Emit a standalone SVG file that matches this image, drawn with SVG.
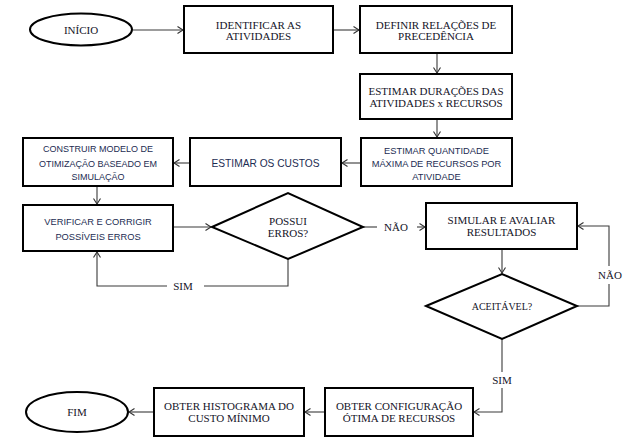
<svg xmlns="http://www.w3.org/2000/svg" width="626" height="443" viewBox="0 0 626 443">
<defs>
<style>
.box{fill:#fff;stroke:#000;stroke-width:2}
.con{fill:none;stroke:#3a3a3a;stroke-width:1.1}
.s{font-family:'Liberation Serif','DejaVu Serif',serif;font-size:11px;fill:#141428;text-anchor:middle}
.ss{font-family:'Liberation Sans',Arial,sans-serif;font-size:9.3px;fill:#1c2c52;text-anchor:middle}
</style>
<marker id="ah" markerUnits="userSpaceOnUse" markerWidth="10" markerHeight="10" refX="6" refY="4" orient="auto">
<path d="M0.5,0.5 L6,4 L0.5,7.5" fill="none" stroke="#333" stroke-width="1.1"/>
</marker>
</defs>
<rect width="626" height="443" fill="#fff"/>
<g id="connectors">
<line class="con" x1="133" y1="30" x2="183" y2="30" marker-end="url(#ah)"/>
<line class="con" x1="333" y1="30" x2="359" y2="30" marker-end="url(#ah)"/>
<line class="con" x1="437" y1="53" x2="437" y2="73" marker-end="url(#ah)"/>
<line class="con" x1="437" y1="119" x2="437" y2="137" marker-end="url(#ah)"/>
<line class="con" x1="361" y1="163" x2="342" y2="163" marker-end="url(#ah)"/>
<line class="con" x1="190" y1="163" x2="174" y2="163" marker-end="url(#ah)"/>
<line class="con" x1="97" y1="186" x2="97" y2="204" marker-end="url(#ah)"/>
<line class="con" x1="173" y1="227" x2="211" y2="227" marker-end="url(#ah)"/>
<polyline class="con" points="288,259 288,286 204,286"/>
<polyline class="con" points="167,286 97,286 97,252" marker-end="url(#ah)"/>
<line class="con" x1="363" y1="227" x2="377" y2="227"/>
<line class="con" x1="417" y1="227" x2="425" y2="227" marker-end="url(#ah)"/>
<line class="con" x1="502" y1="249" x2="502" y2="273" marker-end="url(#ah)"/>
<polyline class="con" points="577,306 609,306 609,284"/>
<polyline class="con" points="609,266 609,226 578,226" marker-end="url(#ah)"/>
<line class="con" x1="502" y1="339" x2="502" y2="372"/>
<polyline class="con" points="502,388 502,412 474,412" marker-end="url(#ah)"/>
<line class="con" x1="325" y1="412" x2="305" y2="412" marker-end="url(#ah)"/>
<line class="con" x1="154" y1="412" x2="129" y2="412" marker-end="url(#ah)"/>
<text class="s" x="183" y="290">SIM</text>
<text class="s" x="396" y="231">NÃO</text>
<text class="s" x="610" y="279">NÃO</text>
<text class="s" x="502" y="384">SIM</text>
</g>
<g id="inicio">
<ellipse class="box" cx="81" cy="29.5" rx="51" ry="16"/>
<text class="s" x="81" y="34">INÍCIO</text>
</g>
<g id="identificar">
<rect class="box" x="184" y="6" width="149" height="47"/>
<text class="s" x="258.5" y="28.5">IDENTIFICAR AS</text>
<text class="s" x="258.5" y="40">ATIVIDADES</text>
</g>
<g id="definir">
<rect class="box" x="360" y="6" width="152" height="47"/>
<text class="s" x="436" y="28.5">DEFINIR RELAÇÕES DE</text>
<text class="s" x="436" y="40">PRECEDÊNCIA</text>
</g>
<g id="duracoes">
<rect class="box" x="360" y="74" width="152" height="45"/>
<text class="s" x="436" y="95">ESTIMAR DURAÇÕES DAS</text>
<text class="s" x="436" y="106.5">ATIVIDADES x RECURSOS</text>
</g>
<g id="quantidade">
<rect class="box" x="361" y="138" width="151" height="48"/>
<text class="ss" x="436.5" y="154">ESTIMAR QUANTIDADE</text>
<text class="ss" x="436.5" y="167">MÁXIMA DE RECURSOS POR</text>
<text class="ss" x="436.5" y="180">ATIVIDADE</text>
</g>
<g id="custos">
<rect class="box" x="190" y="138" width="151" height="48"/>
<text class="ss" x="265.5" y="167" style="font-size:10.2px">ESTIMAR OS CUSTOS</text>
</g>
<g id="construir">
<rect class="box" x="23" y="138" width="150" height="48"/>
<text class="ss" x="98" y="152" style="font-size:9px">CONSTRUIR MODELO DE</text>
<text class="ss" x="98" y="167" style="font-size:9px">OTIMIZAÇÃO BASEADO EM</text>
<text class="ss" x="98" y="180" style="font-size:9px">SIMULAÇÃO</text>
</g>
<g id="verificar">
<rect class="box" x="23" y="205" width="150" height="46"/>
<text class="ss" x="98" y="225">VERIFICAR E CORRIGIR</text>
<text class="ss" x="98" y="240">POSSÍVEIS ERROS</text>
</g>
<g id="possui">
<polygon class="box" points="212,227 288,193 363,227 288,259"/>
<text class="s" x="288" y="225">POSSUI</text>
<text class="s" x="288" y="236.5">ERROS?</text>
</g>
<g id="simular">
<rect class="box" x="426" y="203" width="151" height="46"/>
<text class="s" x="501.5" y="224">SIMULAR E AVALIAR</text>
<text class="s" x="501.5" y="236">RESULTADOS</text>
</g>
<g id="aceitavel">
<polygon class="box" points="426,306 502,274 577,306 502,339"/>
<text class="s" x="502" y="310" style="font-size:10px">ACEITÁVEL?</text>
</g>
<g id="configuracao">
<rect class="box" x="325" y="388" width="148" height="48"/>
<text class="s" x="399" y="410">OBTER CONFIGURAÇÃO</text>
<text class="s" x="399" y="421.5">ÓTIMA DE RECURSOS</text>
</g>
<g id="histograma">
<rect class="box" x="154" y="388" width="150" height="48"/>
<text class="s" x="229" y="410">OBTER HISTOGRAMA DO</text>
<text class="s" x="229" y="421.5">CUSTO MÍNIMO</text>
</g>
<g id="fim">
<ellipse class="box" cx="77" cy="412" rx="51" ry="20"/>
<text class="s" x="77" y="416">FIM</text>
</g>
</svg>
